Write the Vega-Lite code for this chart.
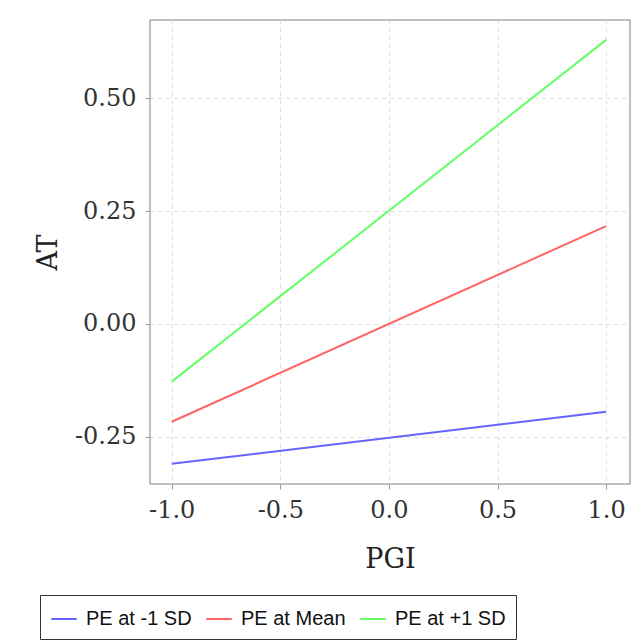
{
  "$schema": "https://vega.github.io/schema/vega-lite/v6.json",
  "width": 480,
  "height": 464,
  "autosize": {"type": "none"},
  "padding": {"left": 150, "top": 20, "right": 2, "bottom": 157},
  "background": "white",
  "data": {
    "values": [
      {"series": "PE at -1 SD", "PGI": -1, "AT": -0.31},
      {"series": "PE at -1 SD", "PGI": 1, "AT": -0.195},
      {"series": "PE at Mean", "PGI": -1, "AT": -0.217},
      {"series": "PE at Mean", "PGI": 1, "AT": 0.217},
      {"series": "PE at +1 SD", "PGI": -1, "AT": -0.128},
      {"series": "PE at +1 SD", "PGI": 1, "AT": 0.63}
    ]
  },
  "mark": {"type": "line", "strokeWidth": 2, "clip": true},
  "encoding": {
    "x": {
      "field": "PGI", "type": "quantitative",
      "scale": {"domain": [-1.1, 1.11], "nice": false, "zero": false},
      "axis": {
        "title": "PGI", "values": [-1, -0.5, 0, 0.5, 1], "format": ".1f",
        "grid": true, "gridDash": [4, 4], "gridColor": "#dddddd",
        "domain": false, "tickColor": "#999999", "tickSize": 5,
        "labelFont": "DejaVu Serif", "labelFontSize": 24, "labelColor": "#333333",
        "labelPadding": 9,
        "titleFont": "DejaVu Serif", "titleFontSize": 27, "titleFontWeight": "normal",
        "titleColor": "#222222", "titlePadding": 24
      }
    },
    "y": {
      "field": "AT", "type": "quantitative",
      "scale": {"domain": [-0.355, 0.674], "nice": false, "zero": false},
      "axis": {
        "title": "AT", "values": [-0.25, 0, 0.25, 0.5], "format": ".2f",
        "grid": true, "gridDash": [4, 4], "gridColor": "#dddddd",
        "domain": false, "tickColor": "#999999", "tickSize": 5,
        "labelFont": "DejaVu Serif", "labelFontSize": 24, "labelColor": "#333333",
        "labelPadding": 9,
        "titleFont": "DejaVu Serif", "titleFontSize": 27, "titleFontWeight": "normal",
        "titleColor": "#222222", "titlePadding": 12
      }
    },
    "color": {
      "field": "series", "type": "nominal",
      "scale": {
        "domain": ["PE at -1 SD", "PE at Mean", "PE at +1 SD"],
        "range": ["#6464ff", "#ff6464", "#64ff64"]
      },
      "legend": {
        "title": null, "orient": "none", "direction": "horizontal",
        "legendX": -110, "legendY": 575,
        "symbolType": "stroke", "symbolSize": 650, "symbolStrokeWidth": 2,
        "labelFont": "Liberation Sans", "labelFontSize": 20, "labelColor": "#111111",
        "labelOffset": 8, "columnPadding": 10,
        "strokeColor": "#333333", "padding": 10, "fillColor": "white"
      }
    }
  },
  "config": {
    "view": {"stroke": "#aaaaaa", "strokeWidth": 1.5},
    "locale": {
      "number": {
        "decimal": ".", "thousands": ",", "grouping": [3],
        "currency": ["$", ""], "minus": "-"
      }
    }
  }
}
